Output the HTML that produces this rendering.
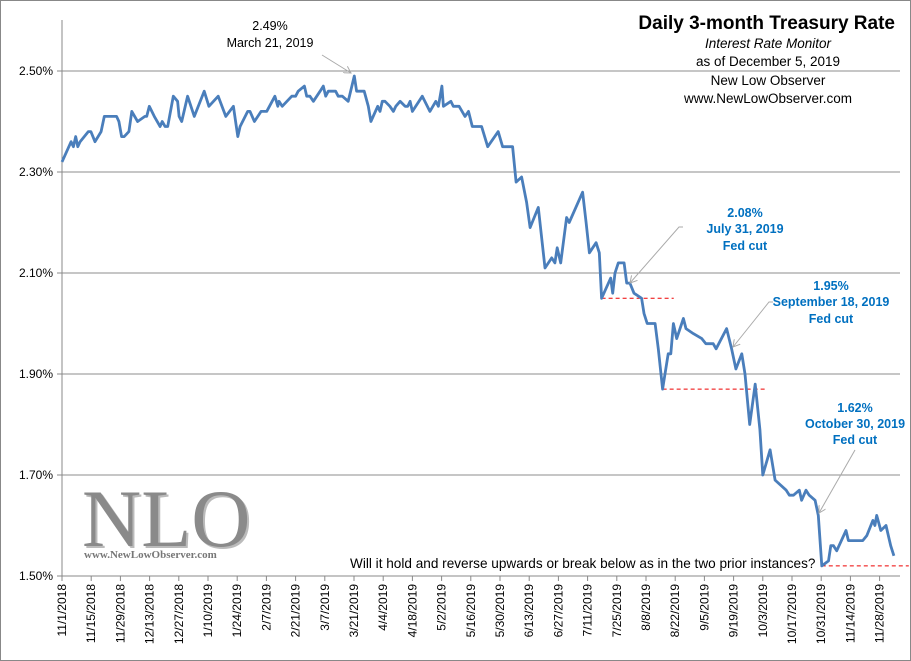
<!DOCTYPE html>
<html><head><meta charset="utf-8"><style>
body{margin:0;background:#fff}
svg{display:block;font-family:"Liberation Sans",sans-serif}
</style></head><body>
<svg id="chart" width="911" height="661">
<defs><marker id="ah" markerWidth="8" markerHeight="8" refX="7" refY="4" orient="auto"><path d="M0,0 L7,4 L0,8" fill="none" stroke="#aaa"/></marker></defs>
<rect x="0.5" y="0.5" width="910" height="660" fill="#fff" stroke="#888"/>
<g id="grid"></g>
<g id="yticks"></g>
<g id="xticks"></g>
<g>
<text x="84" y="548" font-family="Liberation Serif,serif" font-size="82" fill="#bbb">NLO</text>
<text x="82" y="546" font-family="Liberation Serif,serif" font-size="82" fill="#8a8a8a">NLO</text>
<text x="84" y="558" font-family="Liberation Serif,serif" font-weight="bold" font-size="11" fill="#777">www.NewLowObserver.com</text>
</g>
<g id="refs"></g>
<path id="line" fill="none" stroke="#4a7ebb" stroke-width="2.8" stroke-linejoin="round"/>
<g>
<text x="895" y="29" text-anchor="end" font-weight="bold" font-size="19">Daily 3-month Treasury Rate</text>
<text x="768" y="48" text-anchor="middle" font-style="italic" font-size="13.5">Interest Rate Monitor</text>
<text x="768" y="66" text-anchor="middle" font-size="13.5">as of December 5, 2019</text>
<text x="768" y="85" text-anchor="middle" font-size="13.5">New Low Observer</text>
<text x="768" y="103" text-anchor="middle" font-size="13.5">www.NewLowObserver.com</text>
</g>
<g font-size="12.5" text-anchor="middle">
<text x="270" y="30">2.49%</text><text x="270" y="47">March 21, 2019</text>
<line x1="322" y1="55" x2="351" y2="73" stroke="#aaa" marker-end="url(#ah)"/>
</g>
<g font-size="12.5" font-weight="bold" fill="#0070c0" text-anchor="middle">
<text x="745" y="217">2.08%</text><text x="745" y="233">July 31, 2019</text><text x="745" y="250">Fed cut</text>
<text x="831" y="290">1.95%</text><text x="831" y="306">September 18, 2019</text><text x="831" y="323">Fed cut</text>
<text x="855" y="412">1.62%</text><text x="855" y="428">October 30, 2019</text><text x="855" y="444">Fed cut</text>
</g>
<g stroke="#aaa" fill="none">
<polyline points="683,227 679,227 630,283" marker-end="url(#ah)"/>
<polyline points="773,302 769,302 733,347" marker-end="url(#ah)"/>
<line x1="855" y1="450" x2="819" y2="513" marker-end="url(#ah)"/>
</g>
<text x="350" y="568" font-size="13.6">Will it hold and reverse upwards or break below as in the two prior instances?</text>
</svg>
<script>
const yTicks=[1.5,1.7,1.9,2.1,2.3,2.5];
const xLabels=["11/1/2018","11/15/2018","11/29/2018","12/13/2018","12/27/2018","1/10/2019","1/24/2019","2/7/2019","2/21/2019","3/7/2019","3/21/2019","4/4/2019","4/18/2019","5/2/2019","5/16/2019","5/30/2019","6/13/2019","6/27/2019","7/11/2019","7/25/2019","8/8/2019","8/22/2019","9/5/2019","9/19/2019","10/3/2019","10/17/2019","10/31/2019","11/14/2019","11/28/2019"];
const days=[0,3.1,3.9,4.7,5.4,6.2,9,9.9,11.3,13.4,14.5,18.7,19.5,20.4,21.3,22.9,23.9,25.9,28.4,29,29.9,31.6,33.6,34.3,35.3,36.2,38.1,39.6,40.1,41,43,45.3,48.7,50.3,53.5,56.1,58.7,60.2,61,63.6,64.4,65.9,68.2,70.1,72.9,73.9,74.3,75.4,78.7,80,80.9,83,83.8,84.9,86.1,88.4,89.5,90.3,91.2,93.7,94.6,96,98,100.1,100.9,103.5,104.9,105.8,108.1,108.9,109.7,110.6,112.3,113.5,114.3,115.8,117.5,118.4,119.2,120,123.4,126,128,128.9,130.1,130.6,133.2,134,136,138,139.2,140.5,143.7,145.8,149.4,150.9,154.3,155.5,157.4,159.1,160.3,163.1,165.4,167.7,168.8,169.6,170.8,172.8,173.7,178.3,179.5,180.6,182.9,184,184.8,187.9,188.6,189.4,190.5,192.5,193.4,194.5,195.9,198.5,199.3,200.4,203.1,204.2,205.7,207.6,208.5,209.4,210.5,212.8,213.7,216.2,219.1,220.5,223,224,227.6,229.3,230.8,232.8,233.9,235.5,237.4,239,240,242.5,244.2,248,249.1,250.5,252.5,253.3,254.8,255.9,257.9,259,260.2,262.5,263.3,264.2,265.3,268.5,269.3,274.2,275.6,277.7,278.4,279,280.4,282.2,283.8,284.9];
const rates=[2.32,2.36,2.35,2.37,2.35,2.36,2.38,2.38,2.36,2.38,2.41,2.41,2.40,2.37,2.37,2.38,2.42,2.40,2.41,2.41,2.43,2.41,2.39,2.40,2.39,2.39,2.45,2.44,2.41,2.40,2.45,2.41,2.46,2.43,2.45,2.41,2.43,2.37,2.39,2.42,2.42,2.40,2.42,2.42,2.45,2.43,2.44,2.43,2.45,2.45,2.46,2.47,2.45,2.45,2.44,2.46,2.47,2.45,2.46,2.46,2.45,2.45,2.44,2.49,2.46,2.46,2.43,2.40,2.43,2.42,2.44,2.44,2.43,2.42,2.43,2.44,2.43,2.43,2.44,2.42,2.45,2.42,2.44,2.43,2.47,2.43,2.44,2.43,2.43,2.41,2.42,2.39,2.39,2.35,2.38,2.35,2.35,2.28,2.29,2.24,2.19,2.23,2.11,2.13,2.12,2.15,2.12,2.21,2.20,2.26,2.20,2.14,2.16,2.14,2.05,2.09,2.06,2.10,2.12,2.12,2.08,2.08,2.06,2.05,2.02,2.00,2.00,1.95,1.87,1.94,1.94,2.00,1.97,2.01,1.99,1.98,1.97,1.96,1.96,1.95,1.99,1.95,1.91,1.94,1.90,1.80,1.88,1.79,1.70,1.75,1.69,1.67,1.66,1.66,1.67,1.65,1.67,1.66,1.65,1.62,1.52,1.53,1.56,1.56,1.55,1.59,1.57,1.57,1.58,1.61,1.60,1.62,1.59,1.60,1.56,1.54];
const refLines=[{from:184.8,to:209.5,v:2.05},{from:205.7,to:241.5,v:1.87},{from:260.2,to:290,v:1.52}];
const NS="http://www.w3.org/2000/svg";
const X0=62,PX=2.92,Y0=576,PY=505;
const xS=d=>X0+d*PX;
const yS=v=>Y0-(v-1.5)*PY;
function mk(tag,attrs,parent){const e=document.createElementNS(NS,tag);for(const k in attrs)e.setAttribute(k,attrs[k]);parent.appendChild(e);return e;}
const grid=document.getElementById('grid'),yt=document.getElementById('yticks'),xt=document.getElementById('xticks');
mk('line',{x1:X0,y1:20,x2:X0,y2:Y0,stroke:'#888'},yt);
mk('line',{x1:X0,y1:Y0,x2:900,y2:Y0,stroke:'#888'},xt);
yTicks.forEach(v=>{
 const g=mk('line',{x1:X0,y1:yS(v),x2:900,y2:yS(v),stroke:'#8c8c8c'},grid);
 
 
 mk('line',{x1:X0-5,y1:yS(v),x2:X0,y2:yS(v),stroke:'#888'},yt);
 const t=mk('text',{x:X0-9,y:yS(v)+4,'text-anchor':'end','font-size':12},yt);
 
 
 t.textContent=v.toFixed(2)+'%';
});
xLabels.forEach((l,i)=>{
 const x=xS(i*10);
 mk('line',{x1:x,y1:Y0,x2:x,y2:Y0+5,stroke:'#888'},xt);
 const t=mk('text',{x:0,y:0,'text-anchor':'end','font-size':12,transform:`translate(${x+4},${Y0+8}) rotate(-90)`},xt);
 
 
 t.textContent=l;
});
const refs=document.getElementById('refs');
refLines.forEach(r=>{
 const l=mk('line',{x1:xS(r.from),y1:yS(r.v),x2:Math.min(910,xS(r.to)),y2:yS(r.v),stroke:'#e00','stroke-dasharray':'4,3'},refs);
 
 
});
document.getElementById('line').setAttribute('d',days.map((d,i)=>(i?'L':'M')+xS(d).toFixed(1)+','+yS(rates[i]).toFixed(1)).join(''));
</script>
</body></html>
